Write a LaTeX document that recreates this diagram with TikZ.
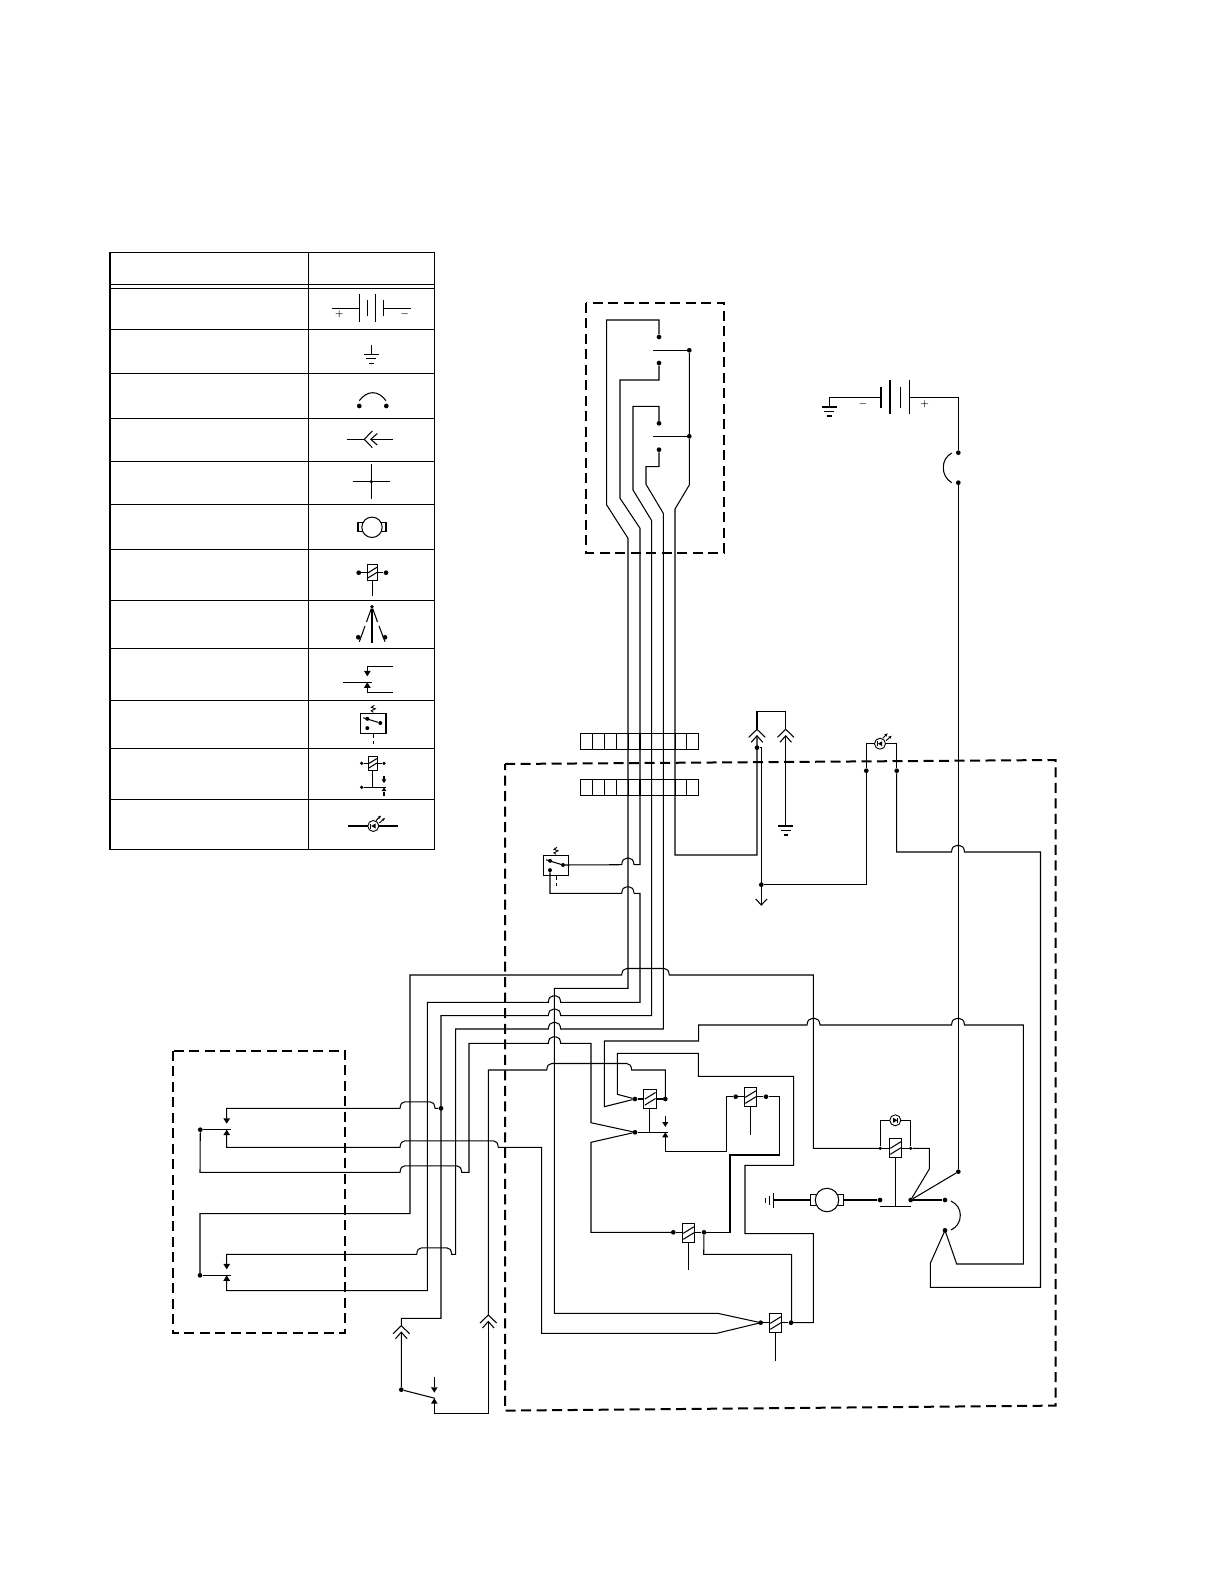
\documentclass[tikz,border=0pt]{standalone}
\usepackage{amsmath}
\usetikzlibrary{calc,arrows.meta}
\tikzset{
  wire/.style={line width=1.05pt,line join=miter},
  fence/.style={line width=2pt,dash pattern=on 10pt off 5.5pt},
  kdot/.style={circle,fill=black,draw=none,inner sep=0pt,minimum size=4.7pt},
  ksmall/.style={circle,fill=black,draw=none,inner sep=0pt,minimum size=3.6pt},
  sign/.style={inner sep=0pt,font=\fontsize{9}{9}\selectfont\boldmath},
  hump/.style={to path={.. controls ($(\tikztostart)+(0.5,-4.5)$) and ($(\tikztostart)+(2,-6.5)$) .. ($(\tikztostart)+(5,-6.5)$) -- ($(\tikztotarget)+(-5,-6.5)$) .. controls ($(\tikztotarget)+(-2,-6.5)$) and ($(\tikztotarget)+(-0.5,-4.5)$) .. (\tikztotarget)}},
  relaycoil/.pic={
    \draw[wire,fill=white] (-6.2,-9.7) rectangle (6.2,9.7);
    \draw[wire] (-5.2,0.3) -- (5.5,-6.3) (-5.2,6.3) -- (5.5,-0.3);
  },
  contactpair/.pic={
    \fill (-3.4,-11.4) -- (3.4,-11.4) -- (0,-6) -- cycle;
    \fill (-3.4,5.5) -- (3.4,5.5) -- (0,0) -- cycle;
  },
  plugend/.pic={
    \draw[wire] (-8.3,8) -- (0,0) -- (8.3,8);
    \draw[wire] (-5.8,13) -- (0,6.5) -- (5.8,13);
  },
  earth/.pic={
    \draw[wire] (-7.5,0) -- (7.5,0) (-5,4.5) -- (5,4.5) (-2.2,9) -- (2.2,9);
  },
  motorbody/.pic={
    \draw[wire] (-14,-4.5) rectangle (-9,4.5) (9,-4.5) rectangle (14,4.5);
    \draw[wire,fill=white] (0,0) circle (10.2);
  },
  lamp/.pic={
    \draw[line width=.9pt,fill=white] (0,0) circle (5.5);
    \fill (2.2,-2.5) -- (2.2,2.5) -- (-2,0) -- cycle;
    \draw[line width=.9pt] (-2.4,-2.5) -- (-2.4,2.5);
  },
  lamprays/.pic={
    \draw[line width=.9pt,-{Stealth[length=3.5pt,width=3pt]}] (2.7,-5.4) -- (7.7,-10.4);
    \draw[line width=.9pt,-{Stealth[length=3.5pt,width=3pt]}] (6,-3) -- (11.7,-8);
  },
  thermal/.pic={
    \draw[wire] (-12.7,-10) rectangle (12.7,10);
    \node[kdot,minimum size=4pt] (a) at (-6,-4.5) {};
    \node[kdot,minimum size=4pt] (b) at (7,-0.3) {};
    \node[kdot,minimum size=4pt] (c) at (-6,4.8) {};
    \draw[wire] (-10,-5.5) -- (b);
    \draw[line width=.9pt] (0,-11) -- (-2,-12.5) -- (2,-14.5) -- (-2,-16) -- (1,-18);
    \draw[line width=.9pt,dash pattern=on 3.5pt off 3pt] (0,11) -- (0,22);
  },
}
\begin{document}
\begin{tikzpicture}[x=1pt,y=-1pt]
  \useasboundingbox (0,0) rectangle (1224,1584);
  % table
  \draw[wire] (110,252.7) rectangle (434.3,849.3);
  \draw[wire] (308.3,252.7) -- (308.3,849.3);
  \foreach \rowy in {284.3,288.3,329.3,373.3,418.3,461.3,504.3,549.3,600.3,648.3,700.3,748.3,799.3}
    \draw[wire] (110,\rowy) -- (434.3,\rowy);
  % table symbols
  \draw[wire] (332,308.3) -- (359.3,308.3) (359.3,294.3) -- (359.3,321.7) (367.3,300) -- (367.3,316)
    (375.3,294.3) -- (375.3,321.7) (383.3,300) -- (383.3,316) (383.3,308.3) -- (410.7,308.3);
  \node[sign] (tplus) at (339.3,314.7) {$+$};
  \node[sign] (tminus) at (404.7,314.7) {$-$};
  \draw[wire] (371.3,345) -- (371.3,354.3);
  \pic at (371.3,354.3) {earth};
  \node[kdot] (tf1) at (359.3,406) {};
  \node[kdot] (tf2) at (386.3,406) {};
  \draw[wire] (359.3,400.7) .. controls (363,395.5) and (368,392.7) .. (372.7,392.7) .. controls (378,392.7) and (382,395.5) .. (386,400.7);
  \draw[wire] (346.7,439.3) -- (364.3,439.3) (371.7,439.3) -- (392.7,439.3);
  \pic[rotate=90] at (364.3,439.3) {plugend};
  \node[ksmall] (tx) at (371.3,481.7) {};
  \draw[wire] (352.7,481.7) -- (390,481.7) (371.3,464) -- (371.3,499.3);
  \pic at (372,527.3) {motorbody};
  \node[kdot] (tr1) at (358.7,572.7) {};
  \node[kdot] (tr2) at (386,572.7) {};
  \draw[wire] (tr1) -- (tr2) (372.3,580) -- (372.3,595.7);
  \pic[scale=.85] at (372.5,572.5) {relaycoil};
  \node[ksmall] (tfork) at (372,606.7) {};
  \node[kdot] (tfl) at (358.3,637.3) {};
  \node[kdot] (tfr) at (385,637.3) {};
  \draw[wire] (tfork) -- (372,642.7);
  \draw[wire] (tfork) -- (366.5,622) (365,626) -- (359.3,641.7);
  \draw[wire] (tfork) -- (377.5,622) (379,626) -- (385,641.7);
  \draw[wire] (393.3,666.3) -- (367.3,666.3) -- (367.3,672);
  \draw[wire] (343.3,682.3) -- (371.7,682.3);
  \draw[wire] (367.3,688) -- (367.3,692.7) -- (393.3,692.7);
  \pic at (367.3,682.3) {contactpair};
  \pic at (373.3,723.3) {thermal};
  \node[ksmall] (tc1) at (361.7,763.3) {};
  \node[ksmall] (tc2) at (384,763.3) {};
  \node[ksmall] (tc3) at (361.7,787.3) {};
  \draw[wire] (tc1) -- (tc2) (372.7,770) -- (372.7,787.3) (tc3) -- (386,787.3);
  \draw[wire] (384,776) -- (384,781) (384,792) -- (384,796);
  \pic[scale=.75] at (372.7,763.3) {relaycoil};
  \pic[scale=.7] at (384,787.3) {contactpair};
  \draw[wire] (348.3,826) -- (397.7,826);
  \pic at (373.3,826) {lamp};
  \pic at (373.3,826) {lamprays};

  % upper switch box
  \draw[fence] (586,302.7) rectangle (724,552.7);
  \node[kdot] (k1) at (659,337) {};
  \node[kdot] (k2) at (659,363) {};
  \node[kdot] (k3) at (659,423.3) {};
  \node[kdot] (k4) at (659,449.7) {};
  \node[kdot] (kb1) at (689.3,350.3) {};
  \node[kdot] (kb2) at (689.3,436.3) {};
  \draw[wire] (653.3,350.3) -- (kb1);
  \draw[wire] (653.3,436.3) -- (kb2);

  % connector strips
  \foreach \stripy in {733.3,779.3}{
    \draw[wire] (580.3,\stripy) rectangle (698.7,\stripy+16.2);
    \foreach \cellx in {592.3,604.3,616.3,628.3,640,651.7,663.3,675.3,686.7}
      \draw[wire] (\cellx,\stripy) -- (\cellx,\stripy+16.2);
  }

  % main enclosure and left box
  \draw[fence] (505,764) -- (1055.5,760) -- (1055.5,1405.6) -- (505,1410.6) -- cycle;
  \draw[fence] (172.6,1050.5) rectangle (345,1333.2);

  % harness
  \draw[wire] (k1) |- (606.7,320) -- (606.7,505) -- (628,538.3) -- (628,988.3) -- (554.3,988.3) -- (554.3,1313.3) -- (717.7,1313.3) -- (760.7,1322.7);
  \draw[wire] (k2) |- (620,380) -- (620,498.3) -- (640,528.3) -- (640,864.7) -- (634,864.7);
  \draw[wire] (226.7,1281) -- (226.7,1290.7) -- (427.3,1290.7) -- (427.3,1002.3) -- (548.3,1002.3) to[hump] (560.7,1002.3) -- (640,1002.3) -- (640,893.3) -- (634,893.3);
  \draw[wire] (401.3,1325.7) -- (401.3,1318.3) -- (441,1318.3) -- (441,1015.7) -- (548.3,1015.7) to[hump] (560.7,1015.7) -- (651.7,1015.7) -- (651.7,520.7) -- (633,490) -- (633,406.3) -| (k3);
  \draw[wire] (226.7,1265) -- (226.7,1254.3) -- (416.7,1254.3) to[hump] (451.7,1254.3) -- (455.7,1254.3) -- (455.7,1029) -- (548.3,1029) to[hump] (560.7,1029) -- (663.3,1029) -- (663.3,513.3) -- (646,484.3) -- (646,466.7) -| (k4);
  \node[kdot] (kplug) at (757,747.7) {};
  \draw[wire] (kb1) -- (kb2) -- (689.3,485) -- (675,509) -- (675,855) -- (757,855) -- (757,735.7);

  % thermal switch
  \pic (th-) at (556,865.3) {thermal};
  \draw[wire] (th-b) -- (621.7,864.7) to[hump] (634,864.7);
  \draw[wire] (th-c) |- (621.7,893.3) to[hump] (634,893.3);

  % connectors to earth and lamp
  \draw[wire] (757,729.3) -- (757,711.7) -- (785.7,711.7) -- (785.7,729.3);
  \draw[wire] (785.7,735.7) -- (785.7,826);
  \pic at (757,729.3) {plugend};
  \pic at (785.7,729.3) {plugend};
  \pic at (785.7,826) {earth};
  \node[kdot] (kgnd) at (761.3,884.7) {};
  \node[kdot] (kl1) at (866.3,770.7) {};
  \node[kdot] (kl2) at (896.7,770.7) {};
  \draw[wire] (kplug) -| (761.3,905);
  \draw[wire] (755.7,899) -- (761.3,905) -- (767,899);
  \draw[wire] (kgnd) -| (kl1) |- (896.7,743.7) -- (kl2);
  \pic at (880,743.7) {lamp};
  \pic at (880,743.7) {lamprays};
  \draw[wire] (kl2) -- (896.7,852) -- (951.5,852) to[hump] (964.5,852) -- (1040.5,852) -- (1040.5,1287.3) -- (930.3,1287.3) -- (930.3,1263.3) -- (945,1230.3);

  % battery and fuse
  \draw[wire] (829.3,406.7) -- (829.3,397.3) -- (881,397.3) (881,386.7) -- (881,407.7) (890,380) -- (890,414)
    (900.3,386.7) -- (900.3,407.7) (909.7,380) -- (909.7,414);
  \node[kdot] (kf1) at (958.3,452.7) {};
  \node[kdot] (kf2) at (958.3,482.7) {};
  \node[kdot] (ksw) at (958.3,1171.7) {};
  \draw[wire] (909.7,397.3) -| (kf1);
  \draw[wire] (951.7,453) .. controls (946,456.5) and (943.3,461) .. (943.3,467.7) .. controls (943.3,474) and (946,479) .. (951.7,482.7);
  \draw[wire] (kf2) -- (ksw);
  \pic at (829.3,407) {earth};
  \node[sign] (bminus) at (863,404.3) {$-$};
  \node[sign] (bplus) at (924.7,404.3) {$+$};

  % left contacts
  \node[kdot] (ca) at (200.3,1129.7) {};
  \node[kdot] (cb) at (200,1275.3) {};
  \node[kdot] (kjoin) at (441,1108.3) {};
  \draw[wire] (ca) -- (230.7,1129.7) (cb) -- (230.7,1275.3);
  \pic at (226.7,1129.7) {contactpair};
  \pic at (226.7,1275.3) {contactpair};
  \draw[wire] (226.7,1118.5) -- (226.7,1108.3) -- (400,1108.3) to[hump] (435,1108.3) -- (kjoin);
  \draw[wire] (226.7,1135) -- (226.7,1147.3) -- (400,1147.3) to[hump] (498.3,1147.3) -- (541.6,1147.3) -- (541.6,1333.3) -- (716.7,1333.3) -- (760.7,1322.7);
  \draw[wire] (ca) -- (200,1172.3) -- (400,1172.3) to[hump] (461.7,1172.3) -- (469,1172.3) -- (469,1043.3) -- (548.3,1043.3) to[hump] (560.7,1043.3) -- (591,1043.3) -- (591,1122.7) -- (635,1132.3);
  \draw[wire] (cb) -- (200,1213.7) -- (410,1213.7) -- (410,975) -- (621.7,975) to[hump] (669.3,975) -- (813.4,975) -- (813.4,1148.3) -- (880.3,1148.3);

  % foot switch
  \node[kdot] (kfoot) at (401.3,1389.7) {};
  \draw[wire] (401.3,1332.3) -- (kfoot) -- (435,1398.3);
  \pic at (401.3,1325.7) {plugend};
  \pic at (488.3,1315) {plugend};
  \draw[wire] (434.3,1376.7) -- (434.3,1387);
  \pic[scale=.95] at (434.3,1398.3) {contactpair};
  \draw[wire] (434.3,1403) -- (434.3,1413.4) -- (488.3,1413.4) -- (488.3,1321.7);
  \draw[wire] (488.3,1315) -- (488.3,1070) -- (546.7,1070) to[hump] (631.7,1070) -- (665.3,1070) -- (665.3,1099);

  % first relay
  \node[kdot] (r1l) at (635,1099) {};
  \node[kdot] (r1r) at (665.3,1099) {};
  \node[kdot] (r1c) at (635,1132.3) {};
  \draw[wire] (r1l) -- (r1r) (649.7,1108) -- (649.7,1132.3) (r1c) -- (668.3,1132.3);
  \pic at (650,1098.8) {relaycoil};
  \pic[scale=.9] at (665.3,1132.3) {contactpair};
  \draw[wire] (665.3,1116) -- (665.3,1123);
  \draw[wire] (r1l) -- (604.3,1106.7) -- (604.3,1041) -- (698.7,1041) -- (698.7,1025) -- (807,1025) to[hump] (820,1025) -- (951.5,1025) to[hump] (964.5,1025) -- (1023.3,1025) -- (1023.3,1264) -- (956.7,1264) -- (945,1230.3);
  \draw[wire] (r1l) -- (617.3,1094.3) -- (617.3,1053.3) -- (698.3,1053.3) -- (698.3,1076.3) -- (793.7,1076.3) -- (793.7,1165.3) -- (745,1165.3) -- (745,1233.7) -- (813.3,1233.7) -- (813.3,1322.7) -- (791,1322.7);
  \draw[wire] (r1c) -- (591,1142.3) -- (591,1232.3) -- (673.3,1232.3);

  % second relay
  \node[kdot] (r2l) at (735.7,1096.7) {};
  \node[kdot] (r2r) at (766,1096.7) {};
  \draw[wire] (r2l) -- (r2r) (750.3,1106) -- (750.3,1135);
  \pic at (750.5,1097) {relaycoil};
  \draw[wire] (665.3,1137) -- (665.3,1151.3) -- (726.7,1151.3) -- (726.7,1096.7) -- (r2l);
  \draw[wire] (r2r) -- (779.3,1096.7) -- (779.3,1155) -- (730,1155) -- (730,1232.3) -- (704,1232.3);

  % third relay
  \node[kdot] (r3l) at (673.3,1232.3) {};
  \node[kdot] (r3r) at (704,1232.3) {};
  \draw[wire] (r3l) -- (r3r) (688.7,1242) -- (688.7,1270);
  \pic at (688.5,1233) {relaycoil};
  \draw[wire] (r3r) -- (703.7,1254.3) -- (791.7,1254.3) -- (791.7,1322.7);

  % fourth relay
  \node[kdot] (r4l) at (760.7,1322.7) {};
  \node[kdot] (r4r) at (791,1322.7) {};
  \draw[wire] (r4l) -- (r4r) (775.7,1332) -- (775.7,1360.7);
  \pic at (775.5,1323) {relaycoil};

  % motor, last relay
  \draw[wire] (773.7,1192.7) -- (773.7,1207.7) (769.3,1196) -- (769.3,1205) (765.3,1198.3) -- (765.3,1202.7);
  \node[kdot] (km1) at (880,1200) {};
  \node[kdot] (km2) at (910.7,1200) {};
  \node[kdot] (km3) at (945,1200) {};
  \node[kdot] (km4) at (945,1230.3) {};
  \node[ksmall] (r5l) at (880.3,1148.3) {};
  \node[ksmall] (r5r) at (910.7,1148.3) {};
  \draw[wire] (773.7,1200) -- (811,1200) (843,1200) -- (km1);
  \pic[scale=1.15] at (827,1200) {motorbody};
  \draw[wire] (r5l) -- (r5r) (r5l) |- (910.7,1120.3) -- (r5r) (895.3,1157) -- (895.3,1206.3) (880,1206.3) -- (910.7,1206.3);
  \pic at (895.5,1148) {relaycoil};
  \pic[xscale=-1] at (895.3,1120.3) {lamp};
  \draw[wire] (r5r) -- (929.3,1148.3) -- (929.3,1169) -- (km2) -- (ksw);
  \draw[wire] (km2) -- (km3);
  \draw[wire] (951,1201) .. controls (957,1204) and (960.3,1209) .. (960.3,1215) .. controls (960.3,1222) and (957,1227) .. (951,1230);
\end{tikzpicture}
\end{document}
